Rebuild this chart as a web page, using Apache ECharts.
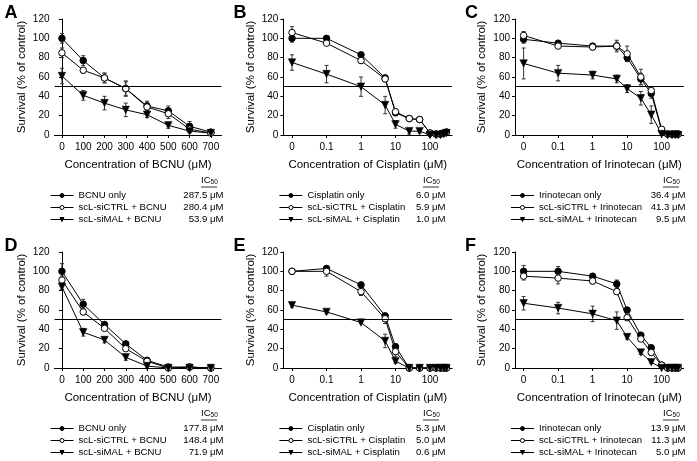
<!DOCTYPE html>
<html><head><meta charset="utf-8">
<script src="https://cdn.jsdelivr.net/npm/echarts@6/dist/echarts.min.js"></script>
<style>html,body{margin:0;padding:0;background:#fff}#c{width:697px;height:461px}</style>
</head><body><div id="c"></div>
<script>
const FONT = '"Liberation Sans", Arial, sans-serif';

// ---------- x values ----------
const bcnuConc = [0, 100, 200, 300, 400, 500, 600, 700];
const drugConc = [0, 0.1, 1, 5, 10, 25, 50, 100, 150, 200, 250, 300];
const linTickValues = [0, 100, 200, 300, 400, 500, 600, 700];
const logTickValues = [0, 0.1, 1, 10, 100];
const ZERO_AT = 0.01; // where concentration 0 is placed on the log axis

// ---------- Panel A (BCNU) ----------
const A_names = ['BCNU only', 'scL-siCTRL + BCNU', 'scL-siMAL + BCNU'];
const A_ic50 = ['287.5 \u03bcM', '280.4 \u03bcM', '53.9 \u03bcM'];
const A_only = [100, 77, 59, 48, 30, 25, 9, 3];
const A_only_err = [5, 5, 5, 7, 5, 5, 5, 2];
const A_ctrl = [85, 67, 59, 48, 29, 22, 6, 2];
const A_ctrl_err = [5, 3, 5, 8, 5, 5, 3, 1];
const A_mal = [61, 41, 33, 26, 21, 10, 4, 2];
const A_mal_err = [8, 5, 7, 7, 3, 3, 2, 1];

// ---------- Panel B (Cisplatin) ----------
const B_names = ['Cisplatin only', 'scL-siCTRL + Cisplatin', 'scL-siMAL + Cisplatin'];
const B_ic50 = ['6.0 \u03bcM', '5.9 \u03bcM', '1.0 \u03bcM'];
const B_only = [100, 100, 83, 59, 23, 17, 16, 2, 1, 1, 2, 3];
const B_only_err = [4, 2, 2, 3, 3, 2, 2, 1, 1, 1, 1, 1];
const B_ctrl = [106, 95, 77, 58, 24, 17, 16, 2, 1, 1, 2, 3];
const B_ctrl_err = [6, 2, 3, 3, 3, 2, 2, 1, 1, 1, 1, 1];
const B_mal = [75, 63, 50, 31, 11, 4, 4, 0, 0, 0, 1, 2];
const B_mal_err = [8, 9, 10, 9, 4, 3, 2, 1, 0, 0, 1, 1];

// ---------- Panel C (Irinotecan) ----------
const C_names = ['Irinotecan only', 'scL-siCTRL + Irinotecan', 'scL-siMAL + Irinotecan'];
const C_ic50 = ['36.4 \u03bcM', '41.3 \u03bcM', '9.5 \u03bcM'];
const C_only = [99, 95, 92, 92, 80, 58, 43, 5, 1, 1, 1, 1];
const C_only_err = [4, 2, 2, 4, 4, 6, 5, 1, 1, 1, 1, 1];
const C_ctrl = [103, 92, 91, 92, 84, 60, 46, 6, 1, 1, 1, 1];
const C_ctrl_err = [4, 2, 3, 6, 8, 8, 3, 1, 1, 1, 1, 1];
const C_mal = [74, 64, 62, 58, 48, 38, 21, 1, 0, 0, 0, 0];
const C_mal_err = [16, 8, 4, 4, 4, 7, 9, 1, 0, 0, 0, 0];

// ---------- Panel D (BCNU) ----------
const D_ic50 = ['177.8 \u03bcM', '148.4 \u03bcM', '71.9 \u03bcM'];
const D_only = [100, 66, 45, 25, 8, 1, 1, 0];
const D_only_err = [8, 5, 2, 2, 2, 1, 1, 1];
const D_ctrl = [91, 58, 41, 20, 7, 0, 1, 0];
const D_ctrl_err = [4, 3, 2, 2, 2, 1, 1, 1];
const D_mal = [84, 37, 29, 11, 2, 0, 0, 0];
const D_mal_err = [3, 4, 3, 3, 1, 0, 0, 0];

// ---------- Panel E (Cisplatin) ----------
const E_ic50 = ['5.3 \u03bcM', '5.0 \u03bcM', '0.6 \u03bcM'];
const E_only = [100, 103, 86, 54, 22, 0, 0, 0, 0, 0, 0, 0];
const E_only_err = [2, 2, 2, 2, 3, 0, 0, 0, 0, 0, 0, 0];
const E_ctrl = [100, 100, 79, 51, 17, 0, 0, 0, 0, 0, 0, 0];
const E_ctrl_err = [3, 5, 4, 5, 5, 0, 0, 0, 0, 0, 0, 0];
const E_mal = [65, 58, 47, 28, 7, 0, 0, 0, 0, 0, 0, 0];
const E_mal_err = [2, 2, 1, 7, 2, 0, 0, 0, 0, 0, 0, 0];

// ---------- Panel F (Irinotecan) ----------
const F_ic50 = ['13.9 \u03bcM', '11.3 \u03bcM', '5.0 \u03bcM'];
const F_only = [100, 100, 95, 87, 60, 34, 21, 3, 0, 0, 0, 0];
const F_only_err = [6, 5, 2, 4, 2, 2, 2, 1, 0, 0, 0, 0];
const F_ctrl = [95, 93, 90, 79, 52, 30, 16, 3, 0, 0, 0, 0];
const F_ctrl_err = [4, 6, 3, 3, 2, 2, 2, 1, 0, 0, 0, 0];
const F_mal = [67, 62, 56, 49, 32, 16, 6, 0, 0, 0, 0, 0];
const F_mal_err = [7, 6, 8, 9, 2, 2, 1, 0, 0, 0, 0, 0];

const panelLetters = ['A', 'B', 'C', 'D', 'E', 'F'];
const xTitles = ['Concentration of BCNU (\u03bcM)', 'Concentration of Cisplatin (\u03bcM)', 'Concentration of Irinotecan (\u03bcM)'];
const yTitle = 'Survival (% of control)';

// ---------- layout ----------
const colLeft = [54.5, 283.4, 515];
const colWidth = [167, 168.7, 168.7];
const valueRight = [222, 444, 684];
const rowTop = [19, 252];
const plotH = 116;

const panels = [
  {kind: 'lin', names: A_names, ic: A_ic50, s: [[A_only, A_only_err], [A_ctrl, A_ctrl_err], [A_mal, A_mal_err]]},
  {kind: 'log', names: B_names, ic: B_ic50, s: [[B_only, B_only_err], [B_ctrl, B_ctrl_err], [B_mal, B_mal_err]]},
  {kind: 'log', names: C_names, ic: C_ic50, s: [[C_only, C_only_err], [C_ctrl, C_ctrl_err], [C_mal, C_mal_err]]},
  {kind: 'lin', names: A_names, ic: D_ic50, s: [[D_only, D_only_err], [D_ctrl, D_ctrl_err], [D_mal, D_mal_err]]},
  {kind: 'log', names: B_names, ic: E_ic50, s: [[E_only, E_only_err], [E_ctrl, E_ctrl_err], [E_mal, E_mal_err]]},
  {kind: 'log', names: C_names, ic: F_ic50, s: [[F_only, F_only_err], [F_ctrl, F_ctrl_err], [F_mal, F_mal_err]]}
];

const markerStyles = [
  {symbol: 'circle', symbolSize: 6.5, itemStyle: {color: '#000', borderColor: '#000', borderWidth: 1}},
  {symbol: 'circle', symbolSize: 6.5, itemStyle: {color: '#fff', borderColor: '#000', borderWidth: 1}},
  {symbol: 'triangle', symbolSize: 7.5, symbolRotate: 180, itemStyle: {color: '#000', borderColor: '#000', borderWidth: 0.5}}
];

const grid = [], xAxis = [], yAxis = [], series = [], legend = [], graphic = [];

function isDecade(v) { const l = Math.log10(v); return Math.abs(l - Math.round(l)) < 1e-6; }

panels.forEach((p, i) => {
  const col = i % 3, row = Math.floor(i / 3);
  const left = colLeft[col], top = rowTop[row], width = colWidth[col];
  grid.push({left: left, top: top, width: width, height: plotH, containLabel: false});
  const xs = p.kind === 'lin' ? bcnuConc : drugConc.map(c => c === 0 ? ZERO_AT : c);
  const common = {
    gridIndex: i, name: xTitles[col], nameLocation: 'middle', nameGap: 24,
    nameTextStyle: {fontFamily: FONT, fontSize: 11.5, color: '#000'},
    axisLine: {lineStyle: {color: '#000', width: 1}},
    splitLine: {show: false},
    axisTick: {show: true, inside: false, length: 3, lineStyle: {color: '#000'}},
    axisLabel: {fontFamily: FONT, fontSize: 10, color: '#000', margin: 7, showMinLabel: true, showMaxLabel: true}
  };
  if (p.kind === 'lin') {
    xAxis.push(Object.assign({}, common, {
      type: 'value', min: -35, max: 750,
      axisTick: Object.assign({}, common.axisTick, {customValues: linTickValues}),
      axisLabel: Object.assign({}, common.axisLabel, {customValues: linTickValues})
    }));
  } else {
    const tv = logTickValues.map(c => c === 0 ? ZERO_AT : c);
    xAxis.push(Object.assign({}, common, {
      type: 'log', logBase: 10, min: Math.pow(10, -2.25), max: Math.pow(10, 2.64),
      axisTick: Object.assign({}, common.axisTick, {customValues: tv}),
      axisLabel: Object.assign({}, common.axisLabel, {customValues: tv,
        formatter: v => {
          if (!isDecade(v)) return '';
          const l = Math.round(Math.log10(v));
          if (l === -2) return '0';
          return String(logTickValues[l + 2]);
        }})
    }));
  }
  yAxis.push({
    gridIndex: i, type: 'value', min: 0, max: 120, interval: 20,
    name: yTitle, nameLocation: 'middle', nameGap: 27,
    nameTextStyle: {fontFamily: FONT, fontSize: 11.5, color: '#000'},
    axisLine: {show: true, lineStyle: {color: '#000', width: 1}},
    axisTick: {show: true, length: 3, lineStyle: {color: '#000'}},
    splitLine: {show: false},
    axisLabel: {fontFamily: FONT, fontSize: 10, color: '#000', margin: 5}
  });
  p.s.forEach((pair, k) => {
    const vals = pair[0], errs = pair[1];
    const data = xs.map((x, j) => [x, vals[j]]);
    const s = Object.assign({
      type: 'line', name: p.names[k], xAxisIndex: i, yAxisIndex: i,
      data: data, showAllSymbol: true, z: 4,
      lineStyle: {color: '#000', width: 1}, emphasis: {disabled: true}, animation: false
    }, markerStyles[k]);
    if (k === 0) {
      s.markLine = {silent: true, symbol: 'none', animation: false, label: {show: false},
        lineStyle: {color: '#000', type: 'solid', width: 1}, data: [{yAxis: 50}]};
    }
    series.push(s);
    series.push({
      type: 'custom', xAxisIndex: i, yAxisIndex: i, z: 3, animation: false, silent: true,
      encode: {x: 0, y: 1},
      data: xs.map((x, j) => [x, vals[j], errs[j]]),
      renderItem: (params, api) => {
        const x = api.value(0), y = api.value(1), e = api.value(2);
        if (!e) return null;
        const t = api.coord([x, y + e]), b = api.coord([x, Math.max(0, y - e)]);
        const st = {stroke: '#333', lineWidth: 1};
        return {type: 'group', children: [
          {type: 'line', shape: {x1: t[0], y1: t[1], x2: b[0], y2: b[1]}, style: st},
          {type: 'line', shape: {x1: t[0] - 2, y1: t[1], x2: t[0] + 2, y2: t[1]}, style: st},
          {type: 'line', shape: {x1: b[0] - 2, y1: b[1], x2: b[0] + 2, y2: b[1]}, style: st}
        ]};
      }
    });
  });
  // legend
  const legLeft = left - 9.5;
  const legTop = top + plotH + 50.5;
  const textStart = legLeft + 23 + 9;
  const vW = 50;
  const nW = valueRight[col] - textStart - vW;
  const icMap = {};
  p.names.forEach((n, k) => icMap[n] = p.ic[k]);
  legend.push({
    left: legLeft, top: legTop, width: 200, height: 60, orient: 'vertical', itemWidth: 23, itemHeight: 5,
    itemGap: 2, itemTextGap: 9, selectedMode: false, data: p.names,
    itemStyle: {borderWidth: 1}, lineStyle: {width: 1},
    textStyle: {fontFamily: FONT, fontSize: 9.6, color: '#000',
      rich: {n: {fontFamily: FONT, fontSize: 9.6, width: nW},
             v: {fontFamily: FONT, fontSize: 9.6, width: vW, align: 'right'}}},
    formatter: name => '{n|' + name + '}{v|' + icMap[name] + '}'
  });
  // IC50 header
  const hx = valueRight[col] - 13;
  const hy = top + plotH + 48;
  graphic.push({type: 'text', left: hx - 8, top: hy - 8, style: {
    text: '{a|IC}{b|50}', rich: {a: {fontFamily: FONT, fontSize: 9.6, fill: '#000'}, b: {fontFamily: FONT, fontSize: 6.5, fill: '#000', padding: [5, 0, 0, 0]}}}});
  graphic.push({type: 'line', shape: {x1: hx - 8, y1: hy + 4, x2: hx + 8, y2: hy + 4}, style: {stroke: '#000', lineWidth: 0.8}});
  // panel letter
  graphic.push({type: 'text', left: left - 50, top: top - 15, style: {text: panelLetters[i], fontFamily: FONT, fontSize: 18, fontWeight: 'bold', fill: '#000'}});
});

const chart = echarts.init(document.getElementById('c'), null, {renderer: 'canvas'});
chart.setOption({animation: false, backgroundColor: '#fff', grid, xAxis, yAxis, series, legend, graphic});
</script></body></html>
